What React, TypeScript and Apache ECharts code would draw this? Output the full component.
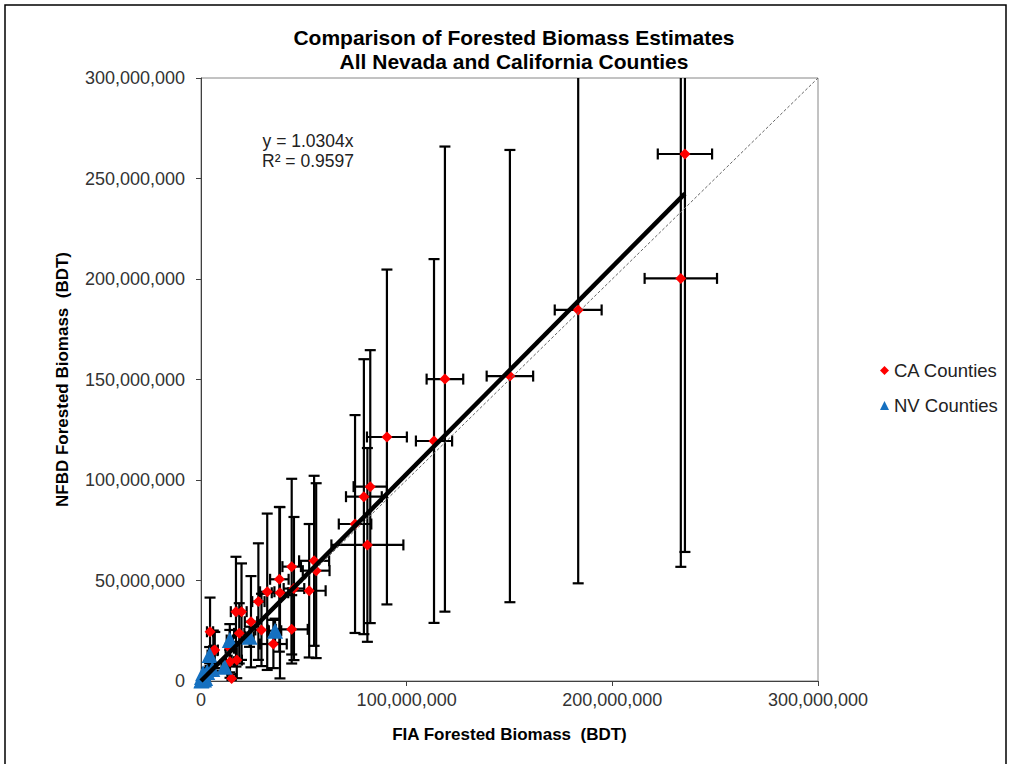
import React, { useEffect, useRef } from "react";
import * as echarts from "echarts";

// Values in millions of BDT
const UNIT = 1e6;
// CA counties: FIA (x), NFBD (y), x error, y error
const caX = [235.3, 233.3, 183.4, 150.2, 118.6, 113.3, 90.4, 82.3, 79.2, 74.9, 80.9, 55.0, 56.0, 44.1, 38.1, 38.4, 32.2, 52.6, 45.2, 27.9, 17.0, 19.7, 24.3, 29.4, 44.1, 18.6, 4.4, 35.2, 6.0, 14.1, 17.4, 14.9, 14.0, 6.7];
const caY = [262.2, 200.3, 184.6, 151.7, 150.2, 119.4, 121.4, 96.7, 91.7, 78.1, 67.7, 59.8, 54.9, 56.9, 50.6, 43.9, 44.4, 44.9, 46.0, 39.5, 34.5, 34.5, 29.5, 25.4, 25.7, 23.7, 24.5, 18.4, 15.1, 9.6, 10.4, 1.3, 16.3, 15.4];
const caXErr = [13.2, 17.6, 11.4, 11.3, 8.9, 8.8, 9.7, 8.1, 8.7, 7.9, 17.5, 7.3, 6.5, 4.5, 4.5, 4.0, 3.5, 8.0, 5.0, 3.0, 2.5, 2.5, 3.0, 3.0, 7.8, 2.5, 1.5, 6.5, 2.0, 2.0, 2.5, 2.0, 2.0, 1.5];
const caYErr = [198, 143.5, 136, 112.5, 115.7, 90.5, 83.3, 67.9, 68.4, 54.2, 48.2, 42.3, 43.5, 43.7, 36.0, 42.6, 38.9, 33.2, 35.6, 29.0, 27.3, 24.0, 22.7, 18.0, 17.0, 15.0, 17.0, 12.0, 10.0, 8.0, 9.0, 2.0, 12.0, 9.0];

// NV counties
const nvX = [36.0, 23.6, 14.0, 11.5, 4.2, 1.0, 0.3, 2.0, 0.5, 5.5, 0.2, 1.5, 3.0];
const nvY = [25.0, 22.0, 20.4, 7.1, 12.9, 3.8, 0.5, 1.5, 2.0, 6.0, 0.2, 0.8, 4.5];
const nvXErr = [3.0, 2.0, 1.5, 1.5, 1.0, 0.5, 0.2, 0.5, 0.2, 1.0, 0.1, 0.3, 0.6];
const nvYErr = [6.0, 5.0, 5.0, 3.0, 4.0, 2.0, 0.5, 1.0, 1.0, 2.5, 0.2, 0.5, 2.0];

const trendSlope = 1.0304;
const trendXMax = 235.3;
const axisMax = 300;

const xTicks = { min: 0, max: 300, interval: 100 };
const yTicks = { min: 0, max: 300, interval: 50 };

const FONT = "Liberation Sans, Arial, sans-serif";

export default function App() {
  const ref = useRef<HTMLDivElement>(null);
  useEffect(() => {
    if (!ref.current) return;
    const chart = echarts.init(ref.current, undefined, { renderer: "svg" });

    const errData = [
      ...caX.map((x, i) => [x * UNIT, caY[i] * UNIT, caXErr[i] * UNIT, caYErr[i] * UNIT]),
      ...nvX.map((x, i) => [x * UNIT, nvY[i] * UNIT, nvXErr[i] * UNIT, nvYErr[i] * UNIT]),
    ];
    const XMAX = xTicks.max * UNIT;
    const YMAX = yTicks.max * UNIT;
    const cap = 5.5;

    const renderItem = (params: any, api: any) => {
      const x = api.value(0), y = api.value(1), ex = api.value(2), ey = api.value(3);
      const yTopV = y + ey, yBotV = y - ey, xLV = x - ex, xRV = x + ex;
      const top = api.coord([x, Math.min(yTopV, YMAX)]);
      const bot = api.coord([x, Math.max(yBotV, 0)]);
      const left = api.coord([Math.max(xLV, 0), y]);
      const right = api.coord([Math.min(xRV, XMAX), y]);
      const st = { stroke: "#000", lineWidth: 2.2, fill: null };
      const children: any[] = [
        { type: "line", shape: { x1: top[0], y1: top[1], x2: bot[0], y2: bot[1] }, style: st },
        { type: "line", shape: { x1: left[0], y1: left[1], x2: right[0], y2: right[1] }, style: st },
      ];
      if (yTopV <= YMAX) children.push({ type: "line", shape: { x1: top[0] - cap, y1: top[1], x2: top[0] + cap, y2: top[1] }, style: st });
      if (yBotV >= 0) children.push({ type: "line", shape: { x1: bot[0] - cap, y1: bot[1], x2: bot[0] + cap, y2: bot[1] }, style: st });
      if (xLV >= 0) children.push({ type: "line", shape: { x1: left[0], y1: left[1] - cap, x2: left[0], y2: left[1] + cap }, style: st });
      if (xRV <= XMAX) children.push({ type: "line", shape: { x1: right[0], y1: right[1] - cap, x2: right[0], y2: right[1] + cap }, style: st });
      return { type: "group", children };
    };

    const fmt = (v: number) => Math.round(v).toLocaleString("en-US");

    chart.setOption({
      animation: false,
      backgroundColor: "#fff",
      textStyle: { fontFamily: FONT },
      grid: { left: 201, top: 78, right: 193, bottom: 83, show: true, borderColor: "#868686", borderWidth: 1, containLabel: false },
      xAxis: {
        type: "value",
        min: xTicks.min * UNIT,
        max: xTicks.max * UNIT,
        interval: xTicks.interval * UNIT,
        splitLine: { show: false },
        axisLine: { show: true, onZero: false, lineStyle: { color: "#404040", width: 1 } },
        axisTick: { show: true, inside: false, length: 5, lineStyle: { color: "#404040" } },
        axisLabel: { formatter: fmt, fontSize: 18, color: "#333", margin: 10, fontFamily: FONT },
        name: "FIA Forested Biomass  (BDT)",
        nameLocation: "middle",
        nameGap: 45,
        nameTextStyle: { fontSize: 17, fontWeight: "bold", color: "#000", fontFamily: FONT },
      },
      yAxis: {
        type: "value",
        min: yTicks.min * UNIT,
        max: yTicks.max * UNIT,
        interval: yTicks.interval * UNIT,
        splitLine: { show: false },
        axisLine: { show: true, onZero: false, lineStyle: { color: "#404040", width: 1 } },
        axisTick: { show: true, inside: false, length: 5, lineStyle: { color: "#404040" } },
        axisLabel: { formatter: fmt, fontSize: 18, color: "#333", margin: 16, fontFamily: FONT },
        name: "NFBD Forested Biomass  (BDT)",
        nameLocation: "middle",
        nameGap: 130,
        nameRotate: 90,
        nameTextStyle: { fontSize: 17, fontWeight: "bold", color: "#000", fontFamily: FONT },
      },
      legend: {
        orient: "vertical",
        left: 875,
        top: 356,
        itemGap: 16,
        itemWidth: 9,
        itemHeight: 9,
        textStyle: { fontSize: 18.5, color: "#222", fontFamily: FONT },
        data: ["CA Counties", "NV Counties"],
      },
      graphic: [
        { type: "rect", shape: { x: 5, y: 5, width: 1001, height: 780 }, style: { fill: null, stroke: "#000", lineWidth: 1.5 }, silent: true, z: -10 },
        { type: "text", x: 514, y: 37, style: { text: "Comparison of Forested Biomass Estimates", font: `bold 21px ${FONT}`, fill: "#000", textAlign: "center", textVerticalAlign: "middle" } },
        { type: "text", x: 514, y: 61, style: { text: "All Nevada and California Counties", font: `bold 21px ${FONT}`, fill: "#000", textAlign: "center", textVerticalAlign: "middle" } },
        { type: "text", x: 308, y: 141, style: { text: "y = 1.0304x", font: `17.5px ${FONT}`, fill: "#222", textAlign: "center", textVerticalAlign: "middle" } },
        { type: "text", x: 308, y: 161, style: { text: "R² = 0.9597", font: `17.5px ${FONT}`, fill: "#222", textAlign: "center", textVerticalAlign: "middle" } },
      ],
      series: [
        {
          name: "errorbars",
          type: "custom",
          renderItem,
          data: errData,
          encode: { x: 0, y: 1 },
          clip: true,
          z: 1,
          silent: true,
        },
        {
          name: "CA Counties",
          type: "scatter",
          symbol: "diamond",
          symbolSize: 11,
          itemStyle: { color: "#FF0000", opacity: 1 },
          data: caX.map((x, i) => [x * UNIT, caY[i] * UNIT]),
          z: 2,
        },
        {
          name: "NV Counties",
          type: "scatter",
          symbol: "triangle",
          symbolSize: 16,
          itemStyle: { color: "#1570C0", opacity: 1 },
          data: nvX.map((x, i) => [x * UNIT, nvY[i] * UNIT]),
          z: 3,
        },
        {
          name: "1:1",
          type: "line",
          data: [[0, 0], [axisMax * UNIT, axisMax * UNIT]],
          symbol: "none",
          lineStyle: { color: "#666", width: 1, type: [3, 2] },
          z: 3,
          silent: true,
        },
        {
          name: "trend",
          type: "line",
          data: [[0, 0], [trendXMax * UNIT, trendXMax * trendSlope * UNIT]],
          symbol: "none",
          lineStyle: { color: "#000", width: 4.5 },
          z: 4,
          silent: true,
        },
      ],
    });
    return () => chart.dispose();
  }, []);
  return <div ref={ref} style={{ position: "fixed", left: 0, top: 0, width: 1011, height: 764 }} />;
}
